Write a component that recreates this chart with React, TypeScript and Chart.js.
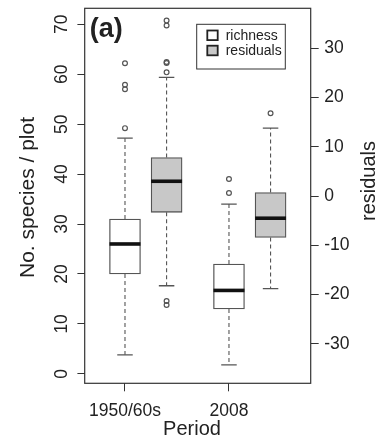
import React, { useEffect, useRef } from 'react';
import { Chart, registerables } from 'chart.js';

Chart.register(...registerables);

// ---- data ----
const periods = ['1950/60s', '2008'];
const seriesNames = ['richness', 'residuals'];
const richnessPos = [1, 2];
const residualPos = [1.4, 2.4];

const richnessQ1 = [20.0, 13.0];
const richnessMedian = [26.0, 16.7];
const richnessQ3 = [31.0, 22.0];
const richnessLow = [3.8, 1.8];
const richnessHigh = [47.2, 34.0];
const richnessOutliers = [[62.2, 57.9, 57.0, 49.2], [39.0, 36.2]];

const residualQ1 = [-3.3, -8.4];
const residualMedian = [3.0, -4.5];
const residualQ3 = [7.8, 0.7];
const residualLow = [-18.2, -18.8];
const residualHigh = [24.1, 13.8];
const residualOutliers = [[35.6, 34.6, 27.2, 27.0, 25.1, -21.3, -22.1], [16.8]];

const leftTicks = [0, 10, 20, 30, 40, 50, 60, 70];
const rightTicks = [-30, -20, -10, 0, 10, 20, 30];

const panelLabel = '(a)';
const xTitle = 'Period';
const yTitle = 'No. species / plot';
const y2Title = 'residuals';

// ---- style ----
const FONT = '"Liberation Sans", Arial, Helvetica, sans-serif';
const TEXT = '#222';
const LINE = '#555';
const GRAY = '#c8c8c8';
const BOX_PX = 31;

const boxPlugin = {
  id: 'boxExtras',
  afterDatasetsDraw(chart: any) {
    const { ctx, scales } = chart;
    const xs = scales.x;
    const groups = [
      { pos: richnessPos, lo: richnessLow, hi: richnessHigh, q1: richnessQ1, q3: richnessQ3, med: richnessMedian, ys: scales.y },
      { pos: residualPos, lo: residualLow, hi: residualHigh, q1: residualQ1, q3: residualQ3, med: residualMedian, ys: scales.y2 },
    ];
    ctx.save();
    for (const g of groups) {
      g.pos.forEach((p: number, i: number) => {
        const cx = xs.getPixelForValue(p);
        const yLo = g.ys.getPixelForValue(g.lo[i]);
        const yHi = g.ys.getPixelForValue(g.hi[i]);
        const y1 = g.ys.getPixelForValue(g.q1[i]);
        const y3 = g.ys.getPixelForValue(g.q3[i]);
        const ym = g.ys.getPixelForValue(g.med[i]);
        ctx.strokeStyle = LINE;
        ctx.lineWidth = 1.1;
        ctx.setLineDash([4, 3]);
        ctx.beginPath();
        ctx.moveTo(cx, y1);
        ctx.lineTo(cx, yLo);
        ctx.moveTo(cx, y3);
        ctx.lineTo(cx, yHi);
        ctx.stroke();
        ctx.setLineDash([]);
        ctx.lineWidth = 1.3;
        ctx.beginPath();
        ctx.moveTo(cx - BOX_PX / 4, yLo);
        ctx.lineTo(cx + BOX_PX / 4, yLo);
        ctx.moveTo(cx - BOX_PX / 4, yHi);
        ctx.lineTo(cx + BOX_PX / 4, yHi);
        ctx.stroke();
        ctx.strokeStyle = '#111';
        ctx.lineWidth = 3.6;
        ctx.beginPath();
        ctx.moveTo(cx - BOX_PX / 2, ym);
        ctx.lineTo(cx + BOX_PX / 2, ym);
        ctx.stroke();
      });
    }
    ctx.restore();
  },
  afterDraw(chart: any) {
    const { ctx, chartArea: ca } = chart;
    ctx.save();
    // frame
    ctx.strokeStyle = '#333';
    ctx.lineWidth = 1.2;
    ctx.strokeRect(ca.left, ca.top, ca.right - ca.left, ca.bottom - ca.top);

    // legend
    const lx = ca.right - 25.4 - 88.6;
    const ly = ca.top + 16;
    ctx.lineWidth = 1;
    ctx.strokeRect(lx, ly, 88.6, 44.7);
    const fills = [chart.data.datasets[0].backgroundColor, chart.data.datasets[1].backgroundColor];
    ctx.font = `14px ${FONT}`;
    ctx.textBaseline = 'middle';
    ctx.textAlign = 'left';
    seriesNames.forEach((name, i) => {
      const sy = ly + 11 + i * 15.2;
      ctx.fillStyle = fills[i];
      ctx.fillRect(lx + 10.6, sy - 4.8, 10.4, 9.6);
      ctx.strokeStyle = '#222';
      ctx.lineWidth = 1.8;
      ctx.strokeRect(lx + 10.6, sy - 4.8, 10.4, 9.6);
      ctx.fillStyle = TEXT;
      ctx.fillText(name, lx + 29, sy + 0.5);
    });

    // panel label
    ctx.fillStyle = TEXT;
    ctx.font = `bold 27px ${FONT}`;
    ctx.textBaseline = 'alphabetic';
    ctx.textAlign = 'left';
    ctx.fillText(panelLabel, ca.left + 5, ca.top + 28.4);

    // axis titles
    ctx.font = `20px ${FONT}`;
    ctx.textAlign = 'center';
    ctx.fillText(xTitle, 192, 435);

    ctx.save();
    ctx.translate(33.5, 197.5);
    ctx.rotate(-Math.PI / 2);
    ctx.font = `21px ${FONT}`;
    ctx.fillText(yTitle, 0, 0);
    ctx.restore();

    ctx.save();
    ctx.translate(374.5, 181);
    ctx.rotate(-Math.PI / 2);
    ctx.font = `20px ${FONT}`;
    ctx.fillText(y2Title, 0, 0);
    ctx.restore();

    ctx.restore();
  },
};

export default function App() {
  const ref = useRef<HTMLCanvasElement | null>(null);

  useEffect(() => {
    if (!ref.current) return;
    const tickFont = { size: 17.5, family: FONT };
    const chart = new Chart(ref.current, {
      type: 'bar',
      data: {
        datasets: [
          {
            type: 'bar',
            label: seriesNames[0],
            data: richnessPos.map((p, i) => ({ x: p, y: [richnessQ1[i], richnessQ3[i]] })) as any,
            backgroundColor: '#ffffff',
            borderColor: LINE,
            borderWidth: 1.3,
            borderSkipped: false,
            barThickness: BOX_PX,
            grouped: false,
            yAxisID: 'y',
          },
          {
            type: 'bar',
            label: seriesNames[1],
            data: residualPos.map((p, i) => ({ x: p, y: [residualQ1[i], residualQ3[i]] })) as any,
            backgroundColor: GRAY,
            borderColor: LINE,
            borderWidth: 1.3,
            borderSkipped: false,
            barThickness: BOX_PX,
            grouped: false,
            yAxisID: 'y2',
          },
          {
            type: 'scatter',
            label: 'richness outliers',
            data: richnessOutliers.flatMap((arr, i) => arr.map((v) => ({ x: richnessPos[i], y: v }))),
            yAxisID: 'y',
            pointRadius: 2.4,
            pointBorderWidth: 1.2,
            borderColor: LINE,
            pointBorderColor: LINE,
            backgroundColor: 'rgba(0,0,0,0)',
            pointBackgroundColor: 'rgba(0,0,0,0)',
            showLine: false,
          } as any,
          {
            type: 'scatter',
            label: 'residual outliers',
            data: residualOutliers.flatMap((arr, i) => arr.map((v) => ({ x: residualPos[i], y: v }))),
            yAxisID: 'y2',
            pointRadius: 2.4,
            pointBorderWidth: 1.2,
            borderColor: LINE,
            pointBorderColor: LINE,
            backgroundColor: 'rgba(0,0,0,0)',
            pointBackgroundColor: 'rgba(0,0,0,0)',
            showLine: false,
          } as any,
        ],
      },
      options: {
        responsive: false,
        maintainAspectRatio: false,
        devicePixelRatio: 1,
        animation: false,
        events: [],
        layout: { padding: { top: 8.3, left: 0, right: 0, bottom: 0 } },
        plugins: { legend: { display: false }, tooltip: { enabled: false }, title: { display: false } },
        scales: {
          x: {
            type: 'linear',
            position: 'bottom',
            min: 0.6125,
            max: 2.786,
            offset: false,
            grid: { display: true, drawOnChartArea: false, drawTicks: true, tickLength: 8, color: '#333', lineWidth: 1, offset: false },
            border: { display: false },
            ticks: {
              font: tickFont,
              color: TEXT,
              padding: 9,
              maxRotation: 0,
              autoSkip: false,
              callback: (v: any) => {
                const i = richnessPos.indexOf(Number(v));
                return i >= 0 ? periods[i] : '';
              },
            },
            afterBuildTicks: (s: any) => {
              s.ticks = richnessPos.map((v) => ({ value: v }));
            },
            afterFit: (s: any) => {
              s.height = 444 - 383.3;
              s.paddingLeft = 0;
              s.paddingRight = 0;
            },
          },
          y: {
            type: 'linear',
            position: 'left',
            min: -1.9,
            max: 73.2,
            beginAtZero: false,
            grid: { display: true, drawOnChartArea: false, drawTicks: true, tickLength: 7.3, color: '#333', lineWidth: 1 },
            border: { display: false },
            ticks: {
              font: tickFont,
              color: TEXT,
              padding: 5.7,
              minRotation: 90,
              maxRotation: 90,
              crossAlign: 'center',
              autoSkip: false,
            },
            afterBuildTicks: (s: any) => {
              s.ticks = leftTicks.map((v) => ({ value: v }));
            },
            afterFit: (s: any) => {
              s.width = 84.7;
              s.paddingTop = 0;
              s.paddingBottom = 0;
            },
          },
          y2: {
            type: 'linear',
            position: 'right',
            min: -38,
            max: 38.1,
            beginAtZero: false,
            grid: { display: true, drawOnChartArea: false, drawTicks: true, tickLength: 8, color: '#333', lineWidth: 1 },
            border: { display: false },
            ticks: { font: tickFont, color: TEXT, padding: 5.5, autoSkip: false },
            afterBuildTicks: (s: any) => {
              s.ticks = rightTicks.map((v) => ({ value: v }));
            },
            afterFit: (s: any) => {
              s.width = 375 - 310.7;
              s.paddingTop = 0;
              s.paddingBottom = 0;
            },
          },
        },
      } as any,
      plugins: [boxPlugin],
    });
    return () => chart.destroy();
  }, []);

  return (
    <div style={{ position: 'absolute', left: 0, top: 0, width: 375, height: 444, background: '#fff' }}>
      <canvas ref={ref} width={375} height={444} style={{ display: 'block', width: 375, height: 444 }} />
    </div>
  );
}
